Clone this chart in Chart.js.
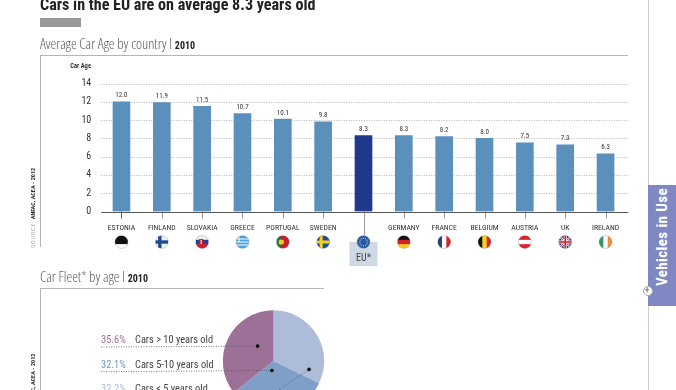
<!DOCTYPE html>
<html>
<head>
<meta charset="utf-8">
<script src="https://cdn.jsdelivr.net/npm/chart.js@4"></script>
<style>
  html, body { margin: 0; padding: 0; background: #fff; }
  body { width: 676px; height: 390px; overflow: hidden; position: relative; font-family: Roboto, sans-serif; font-stretch: 75%; }
  #page { position: absolute; left: 0; top: 0; width: 676px; height: 390px; overflow: hidden; filter: blur(0.35px); }
  canvas { position: absolute; }
  .t { position: absolute; white-space: nowrap; line-height: 1; }
  .line { position: absolute; background: #b4b4b4; }
  .rot { position: absolute; white-space: nowrap; line-height: 1; transform: rotate(-90deg); transform-origin: 0 0; }
  .sub { font-size: 14.5px; color: #5a5a5a; font-family: "Open Sans"; font-weight: 300; font-stretch: 85%; }
  .sub b { font-size: 10px; color: #222; font-weight: 700; font-family: Roboto; font-stretch: 75%; }
  .src { font-size: 6.2px; color: #333; font-weight: bold; }
  .src span { color: #aaa; font-weight: normal; letter-spacing: .8px; }
</style>
</head>
<body>
<div id="page">
  <div class="t" style="left:40px;top:-3px;font-size:16.1px;font-weight:bold;color:#222">Cars in the EU are on average 8.3 years old</div>
  <div class="line" style="left:40px;top:18px;width:41px;height:9px;background:#999"></div>

  <div class="t sub" style="left:40px;top:37px">Average Car Age by country I <b>2010</b></div>
  <div class="line" style="left:40px;top:55px;width:588px;height:1px"></div>
  <div class="line" style="left:40px;top:55px;width:1px;height:192px"></div>
  <div class="rot src" style="left:30px;top:248px"><span>SOURCE:</span> ANFAC, ACEA - 2012</div>

  <div class="t sub" style="left:40px;top:270px">Car Fleet* by age I <b>2010</b></div>
  <div class="line" style="left:40px;top:288px;width:284px;height:1px"></div>
  <div class="line" style="left:40px;top:288px;width:1px;height:102px"></div>
  <div class="rot src" style="left:30px;top:405px">ANFAC, ACEA - 2012</div>

  <canvas id="barChart" style="left:0;top:0;width:676px;height:280px"></canvas>
  <canvas id="pieChart" style="left:100px;top:290px;width:347px;height:142px"></canvas>

  <div class="line" style="left:648px;top:0;width:1px;height:390px;background:#ccc"></div>
  <div class="line" style="left:648px;top:185px;width:28px;height:121px;background:#8088c4"></div>
  <div class="rot" style="left:655px;top:286px;font-size:15px;font-weight:bold;color:#fff;letter-spacing:.4px">Vehicles in Use</div>
  <div class="line" style="left:643px;top:286px;width:8px;height:8px;border:1px solid #aaa;border-radius:50%;background:#fff"></div>
  <div class="t" style="left:645px;top:286px;font-size:9px;color:#888;font-weight:bold">+</div>
</div>

<script>
const countries = ['ESTONIA','FINLAND','SLOVAKIA','GREECE','PORTUGAL','SWEDEN','EU*','GERMANY','FRANCE','BELGIUM','AUSTRIA','UK','IRELAND'];
const ages = [12.0,11.9,11.5,10.7,10.1,9.8,8.3,8.3,8.2,8.0,7.5,7.3,6.3];
const ageTicks = [0,2,4,6,8,10,12,14];

const fleetLabels = ['Cars < 5 years old','Cars 5-10 years old','Cars > 10 years old'];
const fleetShares = [32.2,32.1,35.6];
const fleetColours = ['#adbcd8','#7f9fc6','#9d7097'];
const fleetTextColours = ['#adbcd8','#6f97c6','#a06f98'];

const BAR = '#5b8fbc', BAR_EU = '#1f3a8c', INK = '#333';
const NARROW = 'Roboto, sans-serif';
// goes in front of the size in the font string, same slot chart.js uses for weight
const COND = 'condensed';

// [direction, colours] for the plain striped flags
const flags = {
  'ESTONIA': ['h', ['#111','#111','#fff']],
  'SLOVAKIA': ['h', ['#eee','#1f3f8f','#c8202f']],
  'GERMANY': ['h', ['#111','#d01f26','#f5c518']],
  'FRANCE': ['v', ['#27408b','#fff','#d8232f']],
  'BELGIUM': ['v', ['#111','#f5d020','#d8232f']],
  'AUSTRIA': ['h', ['#d8232f','#fff','#d8232f']],
  'IRELAND': ['v', ['#2f9a5a','#fff','#f08a3c']],
  'PORTUGAL': ['v', ['#1f7a3a','#c8202f','#c8202f']]
};

function drawFlag(ctx, name, x, y, r) {
  ctx.save();
  ctx.beginPath();
  ctx.arc(x, y, r, 0, Math.PI * 2);
  ctx.clip();
  ctx.fillStyle = '#fff';
  ctx.fillRect(x - r, y - r, r * 2, r * 2);
  const f = flags[name];
  if (f) {
    f[1].forEach((c, i) => {
      ctx.fillStyle = c;
      if (f[0] === 'h') ctx.fillRect(x - r, y - r + i * 2 * r / 3, r * 2, 2 * r / 3 + .5);
      else ctx.fillRect(x - r + i * 2 * r / 3, y - r, 2 * r / 3 + .5, r * 2);
    });
  }
  const cross = (bg, fg, w) => {
    ctx.fillStyle = bg;
    ctx.fillRect(x - r, y - r, r * 2, r * 2);
    ctx.fillStyle = fg;
    ctx.fillRect(x - r, y - w / 2, r * 2, w);
    ctx.fillRect(x - 2 - w / 2, y - r, w, r * 2);
  };
  if (name === 'FINLAND') cross('#f0f3f8', '#1f4a8c', 3.4);
  if (name === 'SWEDEN') cross('#1f4f9c', '#f5d020', 3);
  if (name === 'GREECE') {
    ctx.fillStyle = '#4aa3dc';
    ctx.fillRect(x - r, y - r, r * 2, r * 2);
    ctx.fillStyle = '#fff';
    for (let i = -2; i <= 2; i += 2) ctx.fillRect(x - r, y + i * 1.5 - .5, r * 2, 1);
    ctx.fillRect(x - 4, y - r, 1, r);
  }
  if (name === 'SLOVAKIA') { ctx.fillStyle = '#c8202f'; ctx.fillRect(x - 3, y - 3, 4, 6); ctx.fillStyle = '#fff'; ctx.fillRect(x - 1.5, y - 2, 1, 4); }
  if (name === 'PORTUGAL') { ctx.fillStyle = '#f5d020'; ctx.beginPath(); ctx.arc(x - 1.5, y, 2.6, 0, Math.PI * 2); ctx.fill(); }
  if (name === 'UK') {
    ctx.fillStyle = '#27408b';
    ctx.fillRect(x - r, y - r, r * 2, r * 2);
    ctx.strokeStyle = '#fff'; ctx.lineWidth = 2;
    ctx.beginPath(); ctx.moveTo(x - r, y - r); ctx.lineTo(x + r, y + r); ctx.moveTo(x + r, y - r); ctx.lineTo(x - r, y + r); ctx.stroke();
    ctx.strokeStyle = '#d8232f'; ctx.lineWidth = 1;
    ctx.stroke();
    ctx.fillStyle = '#fff'; ctx.fillRect(x - r, y - 1.5, r * 2, 3); ctx.fillRect(x - 1.5, y - r, 3, r * 2);
    ctx.fillStyle = '#d8232f'; ctx.fillRect(x - r, y - .8, r * 2, 1.6); ctx.fillRect(x - .8, y - r, 1.6, r * 2);
  }
  if (name === 'EU*') {
    ctx.fillStyle = '#2a5aa0';
    ctx.fillRect(x - r, y - r, r * 2, r * 2);
    ctx.fillStyle = '#cfe0f0';
    for (let i = 0; i < 12; i++) {
      const a = i * Math.PI / 6;
      ctx.fillRect(x + Math.cos(a) * 3.8 - .4, y + Math.sin(a) * 3.8 - .4, .9, .9);
    }
  }
  ctx.restore();
  ctx.strokeStyle = 'rgba(120,120,120,.5)';
  ctx.lineWidth = .6;
  ctx.beginPath();
  ctx.arc(x, y, r, 0, Math.PI * 2);
  ctx.stroke();
}

const barExtras = {
  id: 'barExtras',
  beforeDatasetsDraw(chart) {
    const { ctx, scales: { y }, chartArea: a } = chart;
    ctx.save();
    ctx.strokeStyle = '#b5b5b5';
    ctx.lineWidth = 1;
    ctx.setLineDash([1, 1.5]);
    ageTicks.forEach(v => {
      if (v === 0) return;
      const py = Math.round(y.getPixelForValue(v)) + .5;
      ctx.beginPath();
      ctx.moveTo(a.left, py);
      ctx.lineTo(a.right + 2.5, py);
      ctx.stroke();
    });
    ctx.restore();
  },
  afterDatasetsDraw(chart) {
    const { ctx, scales: { x, y }, chartArea: a } = chart;
    const base = y.getPixelForValue(0);
    const meta = chart.getDatasetMeta(0);
    const valueFont = COND + ' 7px ' + NARROW;
    ctx.save();
    // baseline
    ctx.strokeStyle = '#555';
    ctx.lineWidth = 1;
    ctx.beginPath();
    ctx.moveTo(a.left, Math.round(base) + .5);
    ctx.lineTo(a.right + 2.5, Math.round(base) + .5);
    ctx.stroke();
    ctx.font = valueFont;
    ctx.fillStyle = INK;
    ctx.textAlign = 'center';
    ctx.textBaseline = 'alphabetic';
    countries.forEach((c, i) => {
      const px = meta.data[i].x;
      const isEu = c === 'EU*';
      ctx.fillText(ages[i].toFixed(1), px, y.getPixelForValue(ages[i]) - 4.5);
      // little tick under the bar, long one for the EU
      ctx.strokeStyle = '#555';
      ctx.beginPath();
      ctx.moveTo(Math.round(px) + .5, base);
      ctx.lineTo(Math.round(px) + .5, base + (isEu ? 24 : 7));
      ctx.stroke();
      if (isEu) {
        ctx.fillStyle = '#cfd9e5';
        ctx.fillRect(px - 14, base + 30.5, 28, 24);
        ctx.fillStyle = '#444';
        ctx.font = COND + ' 10px ' + NARROW;
        ctx.fillText(c, px, base + 49);
        ctx.font = valueFont;
        ctx.fillStyle = INK;
      }
      drawFlag(ctx, c, px, base + 30.5, 6.5);
    });
    // axis title
    ctx.font = COND + ' bold 6.5px ' + NARROW;
    ctx.textAlign = 'right';
    ctx.fillStyle = INK;
    ctx.fillText('Car Age', 91, a.top - 16);
    ctx.restore();
  }
};

new Chart(document.getElementById('barChart'), {
  type: 'bar',
  data: {
    labels: countries,
    datasets: [{
      data: ages,
      backgroundColor: countries.map(c => c === 'EU*' ? BAR_EU : BAR),
      barThickness: 17
    }]
  },
  options: {
    responsive: false,
    animation: false,
    devicePixelRatio: 1,
    layout: { padding: { top: 83.5, right: 50.3, left: 0, bottom: 0 } },
    plugins: { legend: { display: false }, tooltip: { enabled: false } },
    scales: {
      x: {
        grid: { display: false, tickLength: 0 },
        border: { display: false },
        afterFit(s) { s.height = 68.5; },
        ticks: {
          padding: 11.5,
          maxRotation: 0,
          autoSkip: false,
          color: INK,
          font: { family: NARROW, size: 7.7, weight: COND },
          callback(v) { const l = this.getLabelForValue(v); return l === 'EU*' ? '' : l; }
        }
      },
      y: {
        min: 0,
        max: 14,
        grid: { display: false, tickLength: 0 },
        border: { display: false },
        afterFit(s) { s.width = 101.3; },
        ticks: {
          stepSize: 2,
          padding: 10,
          color: INK,
          font: { family: NARROW, size: 10, weight: COND }
        }
      }
    }
  },
  plugins: [barExtras]
});

// where each leader dot sits inside its slice: [share of slice angle, share of radius]
const dotSpots = [[.89,.72],[.636,.19],[.634,.43]];
const labelRows = [2,1,0];

const pieExtras = {
  id: 'pieExtras',
  afterDatasetsDraw(chart) {
    const { ctx } = chart;
    const arcs = chart.getDatasetMeta(0).data;
    ctx.save();
    arcs.forEach((arc, i) => {
      const ang = arc.startAngle + (arc.endAngle - arc.startAngle) * dotSpots[i][0];
      const rad = arc.outerRadius * dotSpots[i][1];
      const dx = arc.x + Math.cos(ang) * rad, dy = arc.y + Math.sin(ang) * rad;
      const row = labelRows[i];
      const rowY = 57 + row * 24.7;
      ctx.strokeStyle = '#555';
      ctx.lineWidth = .8;
      ctx.setLineDash([1, 1.5]);
      ctx.beginPath();
      ctx.moveTo(1, rowY);
      if (row === 2) { ctx.lineTo(dx - 40, rowY); }
      ctx.lineTo(dx, dy);
      ctx.stroke();
      ctx.setLineDash([]);
      ctx.fillStyle = '#000';
      ctx.beginPath();
      ctx.arc(dx, dy, 1.8, 0, Math.PI * 2);
      ctx.fill();
      ctx.textAlign = 'left';
      ctx.font = COND + ' 10.4px ' + NARROW;
      ctx.fillStyle = fleetTextColours[i];
      ctx.fillText(fleetShares[i].toFixed(1) + '%', 1, rowY - 4);
      ctx.fillStyle = '#444';
      ctx.fillText(fleetLabels[i], 35, rowY - 4);
    });
    ctx.restore();
  }
};

new Chart(document.getElementById('pieChart'), {
  type: 'pie',
  data: {
    labels: fleetLabels,
    datasets: [{ data: fleetShares, backgroundColor: fleetColours, borderWidth: 0 }]
  },
  options: {
    responsive: false,
    animation: false,
    devicePixelRatio: 1,
    radius: 50.7,
    plugins: { legend: { display: false }, tooltip: { enabled: false } }
  },
  plugins: [pieExtras]
});
</script>
</body>
</html>
